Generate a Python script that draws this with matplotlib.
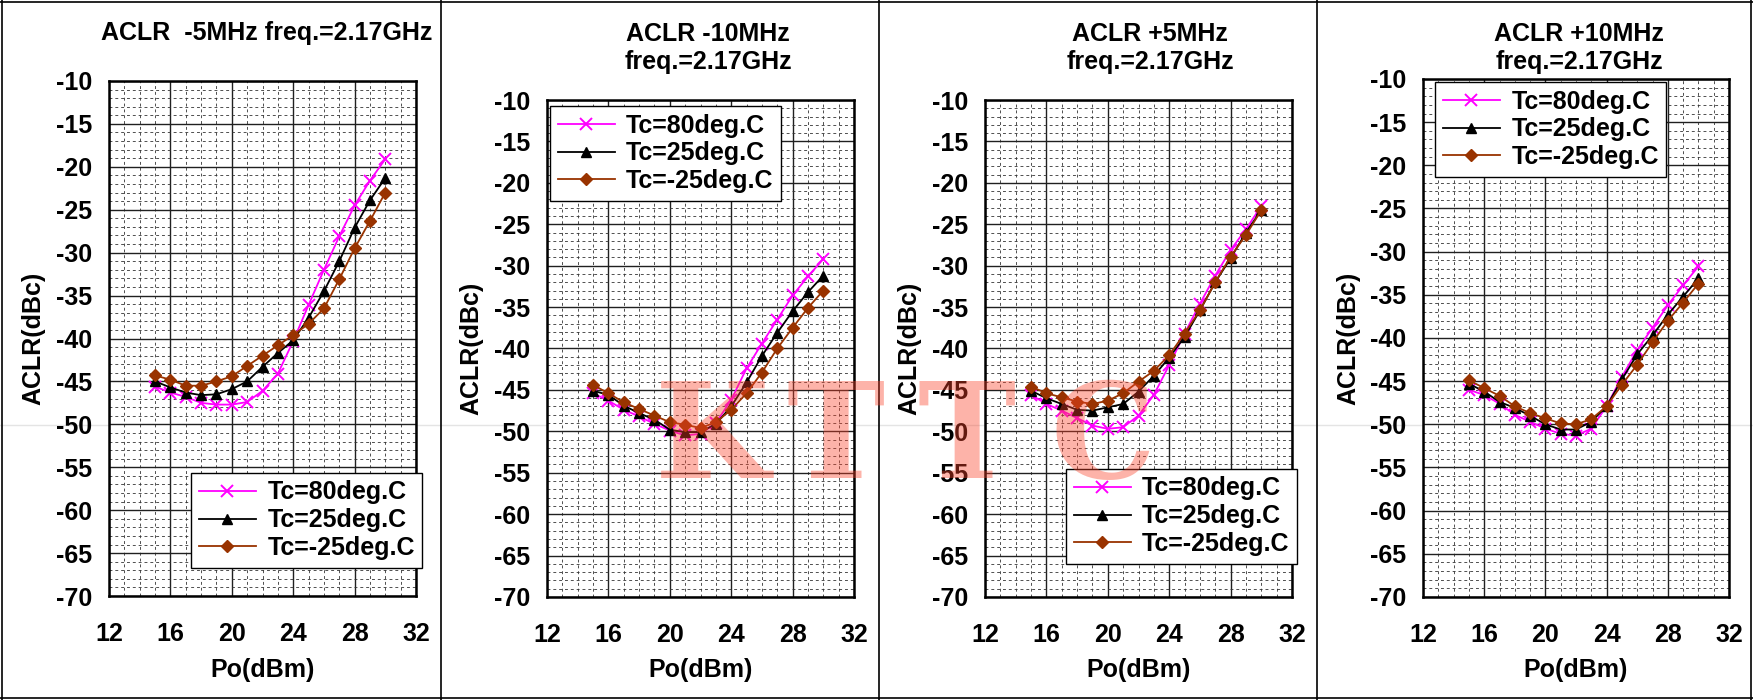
import matplotlib.pyplot as plt
from matplotlib.lines import Line2D
from matplotlib.ticker import MultipleLocator

plt.rcParams['font.family'] = ['Liberation Sans', 'DejaVu Sans']
plt.rcParams['font.weight'] = 'bold'
plt.rcParams['axes.labelweight'] = 'bold'
plt.rcParams['axes.unicode_minus'] = False

# --- data ---
po = [15, 16, 17, 18, 19, 20, 21, 22, 23, 24, 25, 26, 27, 28, 29, 30]
labels = ['Tc=80deg.C', 'Tc=25deg.C', 'Tc=-25deg.C']
titles = ['ACLR  -5MHz freq.=2.17GHz',
          'ACLR -10MHz\nfreq.=2.17GHz',
          'ACLR +5MHz\nfreq.=2.17GHz',
          'ACLR +10MHz\nfreq.=2.17GHz']

m5_80 = [-45.6, -46.3, -46.8, -47.5, -47.7, -47.7, -47.4, -46.1, -44.1, -40.3, -36.1, -32.0, -28.1, -24.5, -21.6, -19.1]
m5_25 = [-45.0, -45.7, -46.3, -46.6, -46.5, -45.9, -45.0, -43.3, -41.7, -40.2, -37.6, -34.5, -31.0, -27.1, -23.9, -21.3]
m5_m25 = [-44.3, -44.8, -45.5, -45.5, -45.0, -44.4, -43.2, -42.0, -40.8, -39.6, -38.3, -36.5, -33.1, -29.5, -26.3, -23.0]

m10_80 = [-45.4, -46.3, -47.4, -48.2, -49.1, -49.9, -50.5, -50.3, -49.0, -46.2, -42.4, -39.4, -36.5, -33.6, -31.3, -29.2]
m10_25 = [-45.1, -45.6, -46.9, -47.8, -48.6, -49.8, -50.1, -50.1, -49.1, -47.0, -44.1, -40.9, -38.1, -35.5, -33.2, -31.2]
m10_m25 = [-44.4, -45.4, -46.5, -47.3, -48.1, -48.9, -49.2, -49.6, -48.9, -47.4, -45.4, -42.9, -40.0, -37.5, -35.1, -33.0]

p5_80 = [-45.6, -46.7, -47.5, -48.4, -49.3, -49.7, -49.5, -48.1, -45.6, -42.0, -38.2, -34.6, -31.2, -28.1, -25.6, -22.8]
p5_25 = [-45.1, -46.0, -46.7, -47.4, -47.5, -47.1, -46.7, -45.2, -43.3, -41.1, -38.6, -35.4, -32.0, -29.1, -26.0, -23.3]
p5_m25 = [-44.6, -45.4, -45.9, -46.4, -46.7, -46.3, -45.4, -44.0, -42.7, -40.8, -38.2, -35.4, -32.0, -28.9, -26.3, -23.3]

p10_80 = [-46.0, -46.6, -47.6, -48.9, -49.7, -50.5, -51.1, -51.3, -50.5, -47.9, -44.5, -41.4, -38.8, -36.2, -33.9, -31.7]
p10_25 = [-45.3, -46.2, -47.4, -48.1, -49.0, -50.0, -50.6, -50.6, -49.7, -47.9, -44.8, -41.9, -39.7, -37.3, -35.2, -33.1]
p10_m25 = [-44.9, -45.8, -46.7, -47.9, -48.7, -49.3, -49.9, -50.0, -49.4, -47.9, -45.4, -43.1, -40.5, -38.0, -35.9, -33.7]

series = [(m5_80, m5_25, m5_m25), (m10_80, m10_25, m10_m25),
          (p5_80, p5_25, p5_m25), (p10_80, p10_25, p10_m25)]

# --- layout in pixels of the 1753x700 picture ---
W, H = 1753, 700
axes_px = [(109, 81, 416, 596), (547, 100, 854, 597),
           (985, 100, 1292, 597), (1423, 79, 1729, 597)]
legend_px = [(191, 473), (550, 106), (1066, 469), (1435, 82)]
title_px = [(267, 33), (708, 48), (1150, 48), (1579, 48)]
FS = 18

fig = plt.figure(figsize=(17.53, 7.0), dpi=100)

# faint stray line across the page
fig.add_artist(Line2D([0, 1], [1 - 425 / H] * 2, color='#e4e4e4', lw=1, zorder=-5))

styles = [dict(color='#FF00FF', marker='x', ms=8, mew=1.4),
          dict(color='black', marker='^', ms=7),
          dict(color='#993300', marker='D', ms=6)]

for i in range(4):
    l, t, r, b = axes_px[i]
    ax = fig.add_axes([l / W, 1 - b / H, (r - l) / W, (b - t) / H])
    for ys, lab, st in zip(series[i], labels, styles):
        ax.plot(po, ys, lw=1.3, label=lab, **st)

    ax.set_xlim(12, 32)
    ax.set_ylim(-70, -10)
    ax.xaxis.set_major_locator(MultipleLocator(4))
    ax.xaxis.set_minor_locator(MultipleLocator(1))
    ax.yaxis.set_major_locator(MultipleLocator(5))
    ax.yaxis.set_minor_locator(MultipleLocator(1))
    ax.set_axisbelow(True)
    ax.grid(which='major', color='#202020', lw=1.0)
    ax.grid(which='minor', color='#333333', lw=0.6, ls=(0, (3.5, 3.5)))
    ax.tick_params(which='both', length=0, labelsize=FS)
    ax.tick_params(axis='y', pad=12)
    ax.tick_params(axis='x', pad=19)
    for lab in ax.get_xticklabels() + ax.get_yticklabels():
        lab.set_fontweight('bold')
    for sp in ax.spines.values():
        sp.set_linewidth(1.8)

    ax.set_xlabel('Po(dBm)', fontsize=FS, fontweight='bold')
    ax.xaxis.set_label_coords(0.5, -(670 - b) / (b - t))
    ax.xaxis.label.set_va('center')
    ax.set_ylabel('ACLR(dBc)', fontsize=FS, fontweight='bold')
    ax.yaxis.set_label_coords(-0.245, 0.5)
    ax.yaxis.label.set_va('center')

    lx, ly = legend_px[i]
    leg = ax.legend(loc='upper left', bbox_to_anchor=(lx / W, 1 - ly / H),
                    bbox_transform=fig.transFigure, fancybox=False,
                    prop=dict(size=FS, weight='bold'),
                    edgecolor='black', framealpha=1, borderpad=0.3,
                    labelspacing=0.15, handlelength=2.3, handletextpad=0.45,
                    borderaxespad=0)
    leg.get_frame().set_linewidth(1.0)

    tx, ty = title_px[i]
    fig.text(tx / W, 1 - ty / H, titles[i], ha='center', va='center',
             fontsize=FS, fontweight='bold', linespacing=1.25)

# panel frames
for x in [2, 441, 879, 1317, 1751]:
    fig.add_artist(Line2D([x / W] * 2, [0, 1], color='black', lw=1.2))
for y in [2, 698]:
    fig.add_artist(Line2D([0, 1], [1 - y / H] * 2, color='black', lw=1.2))

# watermark
for ch, cx in zip('KTTC', [712, 836, 967, 1103]):
    fig.text(cx / W, 1 - 478 / H, ch, ha='center', va='baseline', fontsize=95,
             family='DejaVu Serif', weight='bold', color='#FA432A',
             alpha=0.4, zorder=10)

fig.savefig('out.png', dpi=100)
